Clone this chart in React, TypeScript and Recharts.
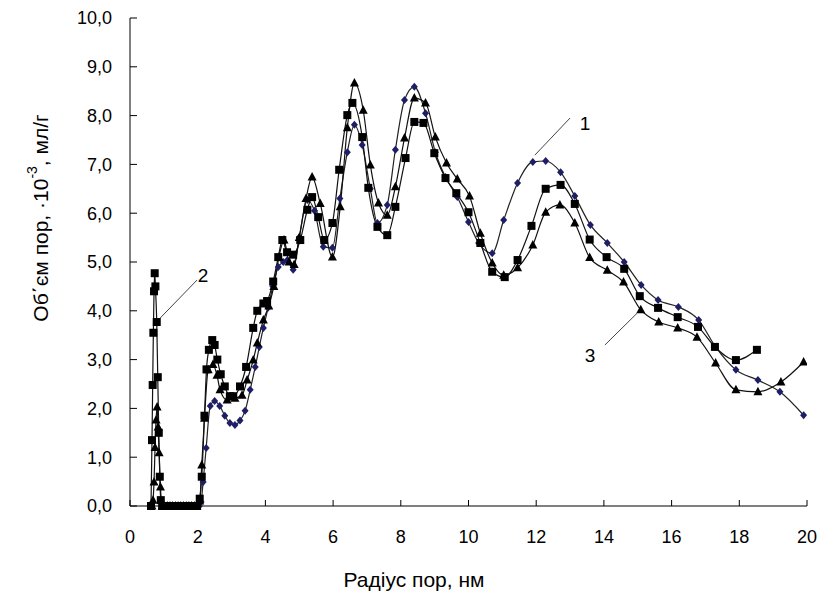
import React from 'react';
import { LineChart, Line, XAxis, YAxis, ReferenceLine, ReferenceDot } from 'recharts';

document.body.style.margin = '0';

const FONT = '"Liberation Sans", Arial, sans-serif';

// series 1 (diamonds)
const r1 = [1.95, 2.05, 2.1, 2.16, 2.25, 2.37, 2.5, 2.65, 2.8, 2.95, 3.1, 3.25, 3.4, 3.55, 3.7, 3.82, 3.94, 4.08, 4.22, 4.38, 4.53, 4.65, 4.82, 5.0, 5.24, 5.45, 5.71, 5.98, 6.2, 6.42, 6.63, 6.86, 7.1, 7.31, 7.6, 7.84, 8.11, 8.4, 8.73, 9.02, 9.32, 9.67, 10.0, 10.3, 10.7, 11.04, 11.45, 11.9, 12.28, 12.72, 13.14, 13.6, 14.1, 14.6, 15.1, 15.6, 16.2, 16.8, 17.3, 17.9, 18.55, 19.2, 19.9];
const v1 = [0, 0, 0.08, 0.49, 1.19, 2.05, 2.15, 2.05, 1.85, 1.7, 1.66, 1.75, 1.95, 2.38, 2.85, 3.26, 3.65, 4.06, 4.5, 4.9, 5.0, 5.04, 4.84, 5.5, 6.27, 6.05, 5.31, 5.29, 6.3, 7.25, 7.81, 7.4, 6.5, 5.8, 6.17, 7.3, 8.32, 8.59, 8.05, 7.25, 6.74, 6.33, 5.82, 5.39, 5.18, 5.86, 6.62, 7.05, 7.07, 6.84, 6.35, 5.76, 5.39, 5.0, 4.53, 4.22, 4.08, 3.81, 3.26, 2.79, 2.58, 2.34, 1.86];

// series 2 (squares)
const r2 = [0.62, 0.65, 0.67, 0.69, 0.71, 0.73, 0.75, 0.79, 0.82, 0.85, 0.88, 0.91, 0.95, 1.02, 1.1, 1.18, 1.26, 1.34, 1.42, 1.5, 1.58, 1.66, 1.74, 1.82, 1.9, 1.98, 2.06, 2.12, 2.2, 2.26, 2.33, 2.43, 2.5, 2.58, 2.68, 2.8, 2.95, 3.05, 3.25, 3.43, 3.64, 3.76, 3.94, 4.05, 4.23, 4.38, 4.5, 4.64, 4.82, 5.03, 5.24, 5.38, 5.56, 5.74, 5.98, 6.18, 6.42, 6.57, 6.86, 7.04, 7.31, 7.6, 7.84, 8.14, 8.4, 8.67, 8.99, 9.32, 9.64, 10.0, 10.35, 10.7, 11.07, 11.45, 11.86, 12.28, 12.72, 13.14, 13.58, 14.08, 14.6, 15.06, 15.6, 16.18, 16.78, 17.28, 17.9, 18.52];
const v2 = [0, 1.35, 2.48, 3.55, 4.4, 4.77, 4.5, 3.77, 2.64, 1.5, 0.6, 0.12, 0, 0, 0, 0, 0, 0, 0, 0, 0, 0, 0, 0, 0, 0, 0.15, 0.6, 1.85, 2.8, 3.2, 3.4, 3.3, 3.0, 2.7, 2.45, 2.25, 2.25, 2.45, 2.85, 3.65, 4.0, 4.15, 4.2, 4.6, 5.1, 5.45, 5.2, 5.15, 5.45, 6.07, 6.33, 5.92, 5.45, 5.8, 6.89, 8.01, 8.26, 7.56, 6.52, 5.72, 5.55, 6.13, 7.13, 7.87, 7.85, 7.23, 6.72, 6.41, 6.02, 5.39, 4.8, 4.69, 5.04, 5.74, 6.5, 6.58, 6.19, 5.46, 5.1, 4.86, 4.3, 4.06, 3.87, 3.67, 3.26, 2.99, 3.2];

// series 3 (triangles)
const r3 = [0.65, 0.68, 0.71, 0.74, 0.77, 0.8, 0.83, 0.86, 0.9, 0.95, 1.02, 1.1, 1.18, 1.26, 1.34, 1.42, 1.5, 1.58, 1.66, 1.74, 1.82, 1.9, 1.98, 2.06, 2.12, 2.2, 2.31, 2.45, 2.57, 2.66, 2.87, 3.1, 3.31, 3.46, 3.64, 3.76, 3.94, 4.1, 4.25, 4.4, 4.55, 4.7, 4.85, 5.0, 5.2, 5.38, 5.62, 5.98, 6.21, 6.42, 6.63, 6.89, 7.1, 7.34, 7.6, 7.84, 8.11, 8.4, 8.73, 9.02, 9.35, 9.67, 10.03, 10.35, 10.7, 11.04, 11.45, 11.9, 12.28, 12.7, 13.14, 13.58, 14.1, 14.58, 15.09, 15.62, 16.18, 16.75, 17.3, 17.9, 18.55, 19.23, 19.9];
const v3 = [0, 0.12, 0.49, 1.2, 1.76, 2.03, 1.62, 1.09, 0.39, 0, 0, 0, 0, 0, 0, 0, 0, 0, 0, 0, 0, 0, 0, 0.1, 0.84, 1.8, 2.79, 2.9, 2.68, 2.38, 2.17, 2.21, 2.27, 2.58, 2.99, 3.34, 3.81, 4.1, 4.5, 5.1, 5.45, 5.0, 4.95, 5.5, 6.3, 6.74, 6.2, 5.1, 6.13, 7.75, 8.67, 8.11, 6.99, 6.21, 5.96, 6.54, 7.54, 8.36, 8.26, 7.56, 7.03, 6.7, 6.35, 5.59, 4.98, 4.73, 4.88, 5.35, 6.02, 6.17, 5.8, 5.09, 4.83, 4.59, 4.02, 3.77, 3.65, 3.46, 2.93, 2.38, 2.34, 2.54, 2.95];

const xTicks = [0, 2, 4, 6, 8, 10, 12, 14, 16, 18, 20];
const yTicks = [0, 1, 2, 3, 4, 5, 6, 7, 8, 9, 10];

const zip = (r: number[], v: number[]) => r.map((x, i) => ({ r: x, v: v[i] }));
const data1 = zip(r1, v1);
const data2 = zip(r2, v2);
const data3 = zip(r3, v3);

const Diamond = ({ cx, cy }: any) =>
  cx == null ? null : (
    <path d={`M${cx},${cy - 4} L${cx + 3.5},${cy} L${cx},${cy + 4} L${cx - 3.5},${cy} Z`} fill="#1e1e66" />
  );

const Square = ({ cx, cy }: any) =>
  cx == null ? null : <rect x={cx - 4} y={cy - 4} width={8} height={8} fill="#000" />;

const Triangle = ({ cx, cy }: any) =>
  cx == null ? null : (
    <path d={`M${cx},${cy - 5} L${cx + 4.5},${cy + 3.5} L${cx - 4.5},${cy + 3.5} Z`} fill="#000" />
  );

const YTitle = () => (
  <text
    x={40}
    y={218}
    transform="rotate(-90, 40, 218)"
    textAnchor="middle"
    dominantBaseline="central"
    fontFamily={FONT}
    fontSize={21}
    fill="#000"
  >
    Об΄єм пор, ·10<tspan dy={-8} fontSize={14}>-3</tspan>
    <tspan dy={8}>, мл/г</tspan>
  </text>
);

const XTitle = () => (
  <text x={414} y={587} textAnchor="middle" fontFamily={FONT} fontSize={21} fill="#000">
    Радіус пор, нм
  </text>
);

const numLabel = (value: string) => ({
  value,
  position: 'center' as const,
  fontSize: 19,
  fontFamily: FONT,
  fill: '#000',
});

const App: React.FC = () => {
  return (
    <div style={{ width: 819, height: 594, background: '#fff' }}>
      <LineChart width={819} height={594} margin={{ top: 18, right: 12, bottom: 0, left: 0 }}>
        <XAxis
          type="number"
          dataKey="r"
          domain={[0, 20]}
          ticks={xTicks}
          height={88}
          tickSize={-6}
          tickMargin={30}
          axisLine={{ stroke: '#000' }}
          tickLine={{ stroke: '#000' }}
          tick={{ fill: '#000', fontSize: 18, fontFamily: FONT }}
          allowDataOverflow
          label={{ content: <XTitle /> }}
        />
        <YAxis
          type="number"
          dataKey="v"
          domain={[0, 10]}
          ticks={yTicks}
          width={130}
          tickSize={-7}
          tickMargin={25}
          axisLine={{ stroke: '#000' }}
          tickLine={{ stroke: '#000' }}
          tick={{ fill: '#000', fontSize: 18, fontFamily: FONT }}
          tickFormatter={(t: number) => t.toFixed(1).replace('.', ',')}
          label={{ content: <YTitle /> }}
        />
        <Line data={data1} dataKey="v" type="monotone" stroke="#222" strokeWidth={1.2}
          dot={(p: any) => <Diamond key={`d${p.index}`} cx={p.cx} cy={p.cy} />} activeDot={false} isAnimationActive={false} />
        <Line data={data2} dataKey="v" type="monotone" stroke="#111" strokeWidth={1.2}
          dot={(p: any) => <Square key={`s${p.index}`} cx={p.cx} cy={p.cy} />} activeDot={false} isAnimationActive={false} />
        <Line data={data3} dataKey="v" type="monotone" stroke="#111" strokeWidth={1.2}
          dot={(p: any) => <Triangle key={`t${p.index}`} cx={p.cx} cy={p.cy} />} activeDot={false} isAnimationActive={false} />
        <ReferenceLine segment={[{ x: 13.0, y: 7.95 }, { x: 11.96, y: 7.19 }]} stroke="#444" />
        <ReferenceLine segment={[{ x: 1.98, y: 4.63 }, { x: 0.89, y: 3.85 }]} stroke="#444" />
        <ReferenceLine segment={[{ x: 14.03, y: 3.3 }, { x: 14.98, y: 3.95 }]} stroke="#444" />
        <ReferenceDot x={13.44} y={7.85} r={0} fill="none" stroke="none" label={numLabel('1')} />
        <ReferenceDot x={2.16} y={4.73} r={0} fill="none" stroke="none" label={numLabel('2')} />
        <ReferenceDot x={13.59} y={3.09} r={0} fill="none" stroke="none" label={numLabel('3')} />
      </LineChart>
    </div>
  );
};

export default App;
